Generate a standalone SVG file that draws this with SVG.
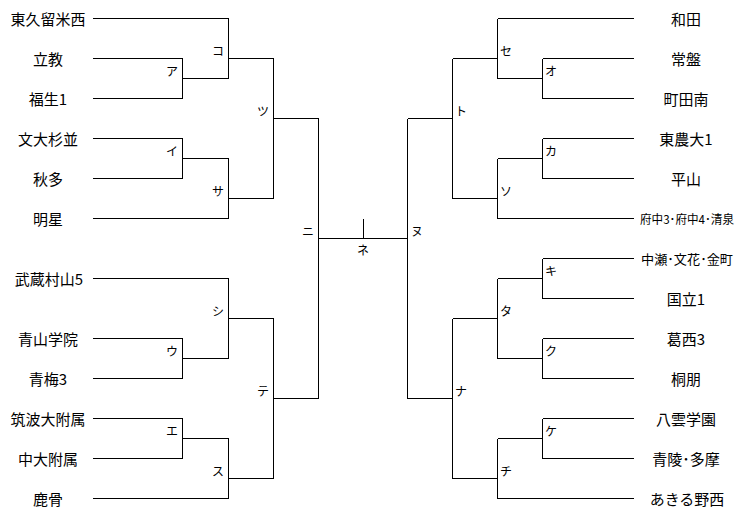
<svg xmlns="http://www.w3.org/2000/svg" width="754" height="516" viewBox="0 0 754 516">
<style>
text{font-family:"Noto Sans CJK JP","Noto Sans CJK SC",sans-serif;fill:#000;dominant-baseline:central}
.t{font-size:15px;text-anchor:middle}
.l{font-size:12px}
.le{text-anchor:end}
.ri{text-anchor:start}
#connectors path{fill:none;stroke:#000;stroke-width:1;shape-rendering:crispEdges}
</style>
<rect width="754" height="516" fill="#fff"/>
<g id="connectors" transform="translate(0.5,0.5)">
<path d="M92 18H228M92 58H182M92 98H182M182 58V98M182 78H228M228 18V78M228 58H273"/>
<path d="M92 138H182M92 178H182M182 138V178M182 158H228M92 218H228M228 158V218M228 198H273M273 58V198M273 118H318"/>
<path d="M92 278H228M92 338H182M92 378H182M182 338V378M182 358H228M228 278V358M228 318H273"/>
<path d="M92 418H182M92 458H182M182 418V458M182 438H228M92 498H228M228 438V498M228 478H273M273 318V478M273 398H318"/>
<path d="M318 118V398M318 238H407M363 218V238M407 118V398"/>
<path d="M407 118H452M452 58V198M452 58H497M497 18V78M497 18H633M497 78H542M542 58V98M542 58H633M542 98H633"/>
<path d="M452 198H497M497 158V218M497 158H542M542 138V178M542 138H633M542 178H633M497 218H633"/>
<path d="M407 398H452M452 318V478M452 318H497M497 278V358M497 278H542M542 258V298M542 258H633M542 298H633M497 358H542M542 338V378M542 338H633M542 378H633"/>
<path d="M452 478H497M497 438V498M497 438H542M542 418V458M542 418H633M542 458H633M497 498H633"/>
</g>
<g id="team-higashikurumenishi"><text class="t" x="48" y="18.5">東久留米西</text></g>
<g id="team-rikkyo"><text class="t" x="48" y="58.5">立教</text></g>
<g id="team-fussa1"><text class="t" x="48" y="98.5">福生1</text></g>
<g id="team-bundaisuginami"><text class="t" x="48" y="138.5">文大杉並</text></g>
<g id="team-shuta"><text class="t" x="48" y="178.5">秋多</text></g>
<g id="team-meisei"><text class="t" x="48" y="218.5">明星</text></g>
<g id="team-musashimurayama5"><text class="t" x="49" y="278.5">武蔵村山5</text></g>
<g id="team-aoyamagakuin"><text class="t" x="48" y="338.5">青山学院</text></g>
<g id="team-ome3"><text class="t" x="48" y="378.5">青梅3</text></g>
<g id="team-tsukubadaifuzoku"><text class="t" x="48" y="418.5">筑波大附属</text></g>
<g id="team-chudaifuzoku"><text class="t" x="48" y="458.5">中大附属</text></g>
<g id="team-shishibone"><text class="t" x="48" y="498.5">鹿骨</text></g>
<g id="team-wada"><text class="t" x="686" y="18.5">和田</text></g>
<g id="team-tokiwa"><text class="t" x="686" y="58.5">常盤</text></g>
<g id="team-machidaminami"><text class="t" x="686" y="98.5">町田南</text></g>
<g id="team-tonodai1"><text class="t" x="686" y="138.5">東農大1</text></g>
<g id="team-hirayama"><text class="t" x="686" y="178.5">平山</text></g>
<g id="team-fuchu"><text x="640" y="218.5" style="font-size:12px" textLength="94" lengthAdjust="spacingAndGlyphs">府中3･府中4･清泉</text></g>
<g id="team-nakase"><text x="641" y="258.5" style="font-size:13px" textLength="92" lengthAdjust="spacingAndGlyphs">中瀬･文花･金町</text></g>
<g id="team-kunitachi1"><text class="t" x="686" y="298.5">国立1</text></g>
<g id="team-kasai3"><text class="t" x="686" y="338.5">葛西3</text></g>
<g id="team-toho"><text class="t" x="686" y="378.5">桐朋</text></g>
<g id="team-yakumogakuen"><text class="t" x="686" y="418.5">八雲学園</text></g>
<g id="team-seiryo-tama"><text class="t" x="686" y="458.5">青陵･多摩</text></g>
<g id="team-akirunonishi"><text class="t" x="687" y="498.5">あきる野西</text></g>
<g id="match-a"><text class="l le" x="178" y="70">ア</text></g>
<g id="match-ko"><text class="l le" x="224" y="50">コ</text></g>
<g id="match-i"><text class="l le" x="178" y="150">イ</text></g>
<g id="match-sa"><text class="l le" x="224" y="190">サ</text></g>
<g id="match-tsu"><text class="l le" x="269" y="110">ツ</text></g>
<g id="match-u"><text class="l le" x="178" y="350">ウ</text></g>
<g id="match-shi"><text class="l le" x="224" y="310">シ</text></g>
<g id="match-e"><text class="l le" x="178" y="430">エ</text></g>
<g id="match-su"><text class="l le" x="224" y="470">ス</text></g>
<g id="match-te"><text class="l le" x="269" y="390">テ</text></g>
<g id="match-ni"><text class="l le" x="314" y="230">ニ</text></g>
<g id="match-ne"><text class="l" x="363" y="249" style="text-anchor:middle">ネ</text></g>
<g id="match-nu"><text class="l ri" x="411" y="230">ヌ</text></g>
<g id="match-to"><text class="l ri" x="455" y="110">ト</text></g>
<g id="match-se"><text class="l ri" x="500" y="50">セ</text></g>
<g id="match-o"><text class="l ri" x="545" y="70">オ</text></g>
<g id="match-ka"><text class="l ri" x="545" y="150">カ</text></g>
<g id="match-so"><text class="l ri" x="500" y="190">ソ</text></g>
<g id="match-na"><text class="l ri" x="455" y="390">ナ</text></g>
<g id="match-ta"><text class="l ri" x="500" y="310">タ</text></g>
<g id="match-ki"><text class="l ri" x="545" y="270">キ</text></g>
<g id="match-ku"><text class="l ri" x="545" y="350">ク</text></g>
<g id="match-chi"><text class="l ri" x="500" y="470">チ</text></g>
<g id="match-ke"><text class="l ri" x="545" y="430">ケ</text></g>
</svg>
